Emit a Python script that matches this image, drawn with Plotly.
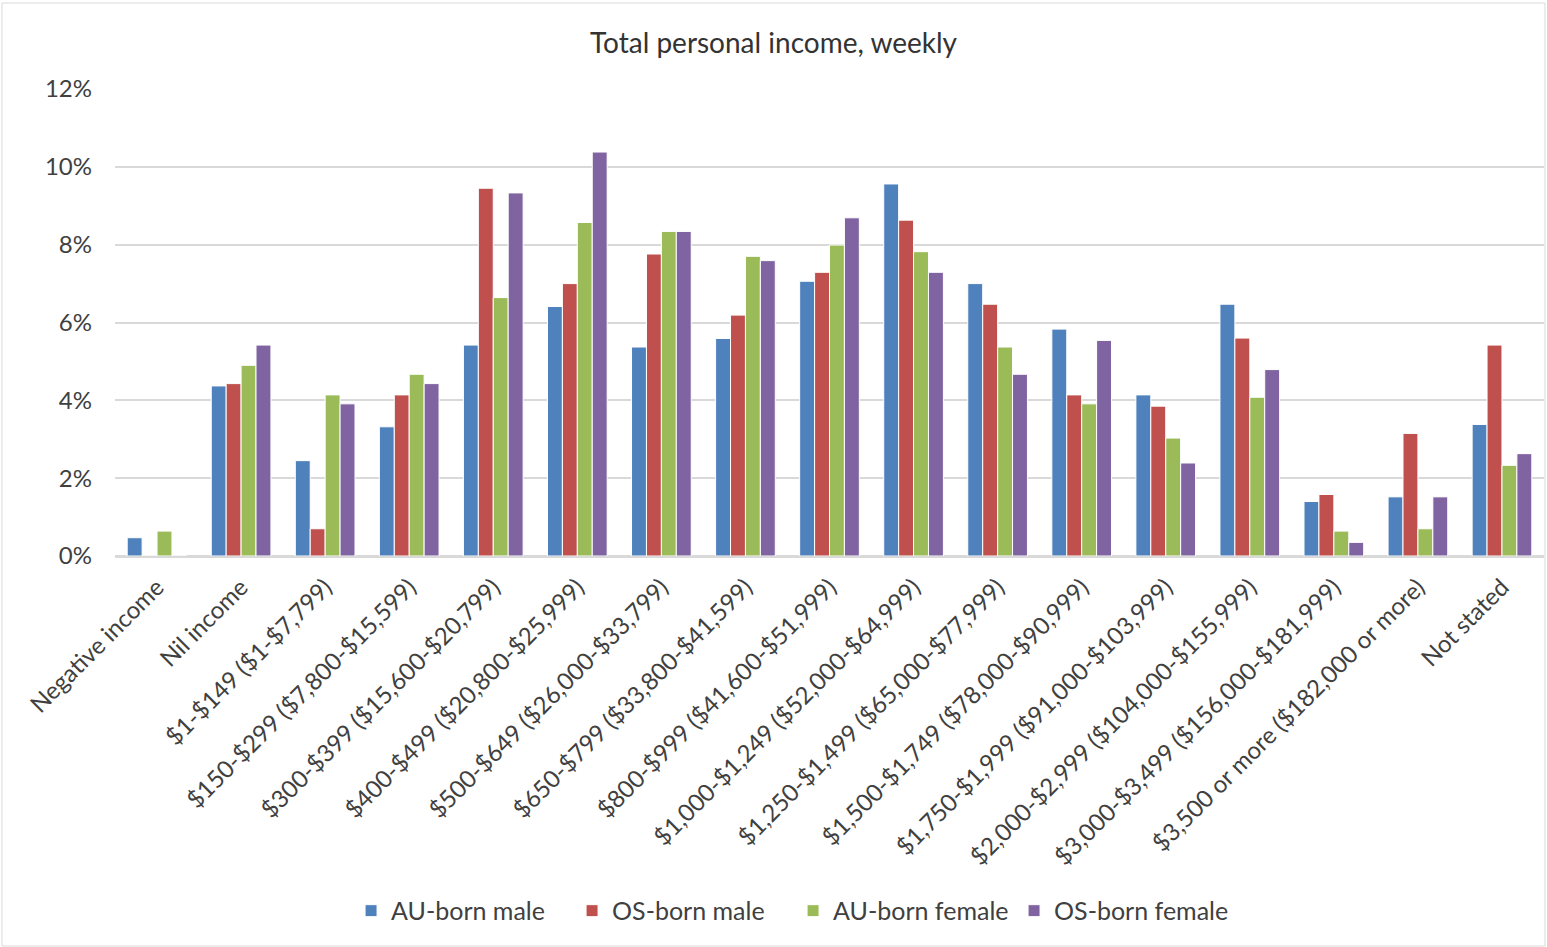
import plotly.graph_objects as go

categories = [
    "Negative income", "Nil income", "$1-$149 ($1-$7,799)", "$150-$299 ($7,800-$15,599)",
    "$300-$399 ($15,600-$20,799)", "$400-$499 ($20,800-$25,999)", "$500-$649 ($26,000-$33,799)",
    "$650-$799 ($33,800-$41,599)", "$800-$999 ($41,600-$51,999)", "$1,000-$1,249 ($52,000-$64,999)",
    "$1,250-$1,499 ($65,000-$77,999)", "$1,500-$1,749 ($78,000-$90,999)", "$1,750-$1,999 ($91,000-$103,999)",
    "$2,000-$2,999 ($104,000-$155,999)", "$3,000-$3,499 ($156,000-$181,999)",
    "$3,500 or more ($182,000 or more)", "Not stated",
]

au_male = [0.47, 4.37, 2.45, 3.32, 5.42, 6.41, 5.37, 5.59, 7.06, 9.56, 7.00, 5.83, 4.14, 6.47, 1.40, 1.52, 3.38]
os_male = [0.0, 4.43, 0.70, 4.14, 9.45, 7.00, 7.76, 6.19, 7.29, 8.63, 6.47, 4.14, 3.85, 5.60, 1.58, 3.15, 5.42]
au_female = [0.64, 4.90, 4.14, 4.67, 6.64, 8.57, 8.34, 7.70, 7.99, 7.82, 5.37, 3.91, 3.03, 4.08, 0.64, 0.70, 2.33]
os_female = [0.0, 5.42, 3.91, 4.43, 9.33, 10.38, 8.34, 7.59, 8.69, 7.29, 4.67, 5.54, 2.39, 4.79, 0.35, 1.52, 2.63]

series = [
    ("AU-born male", au_male, "#4F81BD"),
    ("OS-born male", os_male, "#C0504D"),
    ("AU-born female", au_female, "#9BBB59"),
    ("OS-born female", os_female, "#8064A2"),
]

y_ticks = [0, 2, 4, 6, 8, 10, 12]

FONT = "Lato, 'Open Sans', sans-serif"

fig = go.Figure()
for name, vals, color in series:
    fig.add_trace(go.Bar(
        name=name, x=categories, y=[v / 100 for v in vals],
        marker=dict(color=color, line=dict(color="white", width=1)),
    ))

fig.update_layout(
    width=1547, height=947,
    barmode="group", bargap=0.29, bargroupgap=0.0,
    paper_bgcolor="white", plot_bgcolor="white",
    margin=dict(l=115, r=3, t=89, b=391, autoexpand=False),
    font=dict(family=FONT, size=24, color="#404040"),
    title=dict(text="Total personal income, weekly", x=0.5, xanchor="center",
               y=1 - 43 / 947, yanchor="middle", font=dict(size=28, color="#333333")),
    legend=dict(orientation="h", x=0.4745, xanchor="center", y=-0.76, yanchor="middle",
                font=dict(size=25, color="#404040"), itemwidth=30, traceorder="normal",
                entrywidth=176, entrywidthmode="pixels"),
    showlegend=True,
)
fig.update_yaxes(
    range=[0, 0.12], tickvals=[t / 100 for t in y_ticks], ticktext=[f"{t}%" for t in y_ticks],
    showgrid=True, gridcolor="#D9D9D9", gridwidth=1.5, zeroline=True, zerolinecolor="#D9D9D9",
    zerolinewidth=1.5, showline=False, ticks="", ticklabelstandoff=22,
    tickfont=dict(size=24, color="#404040"),
)
fig.update_xaxes(
    tickangle=-45, showgrid=False, showline=True, linecolor="#D9D9D9", linewidth=1.5,
    ticks="", ticklabelstandoff=6, tickfont=dict(size=24, color="#404040"),
)
fig.add_shape(type="rect", xref="paper", yref="paper",
              x0=-113 / 1429, x1=1 + 1 / 1429, y0=-390 / 467, y1=1 + 86 / 467,
              line=dict(color="#D9D9D9", width=1), fillcolor="rgba(0,0,0,0)", layer="below")

fig.write_html("out.html", config={"displayModeBar": False},
               post_script="document.body.style.margin='0';document.body.style.overflow='hidden';")
